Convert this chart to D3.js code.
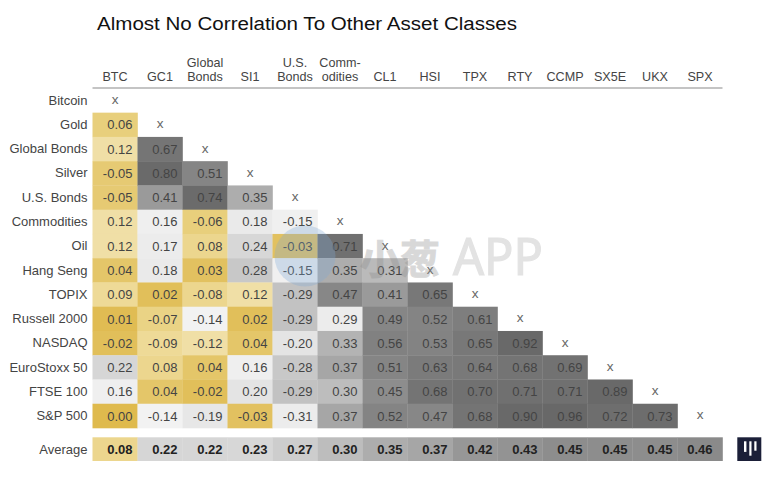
<!DOCTYPE html>
<html>
<head>
<meta charset="utf-8">
<script src="https://cdn.jsdelivr.net/npm/d3@7"></script>
<style>
  html, body { margin: 0; padding: 0; background: #fff; }
  svg { display: block; }
  text { font-family: "Liberation Sans", Arial, sans-serif; fill: #444; }
  .axis path { display: none; }
  .axis line { display: none; }
  .axis text { font-size: 12.6px; }
  .rowlabels text { font-size: 13px; }
  .val { font-size: 13px; text-anchor: end; }
  .avg { font-size: 13px; text-anchor: end; font-weight: bold; fill: #222; }
</style>
</head>
<body>
<div id="chart"></div>
<script>
var title = "Almost No Correlation To Other Asset Classes";

var columns = ["BTC", "GC1", "Global Bonds", "SI1", "U.S. Bonds", "Comm- odities", "CL1", "HSI", "TPX", "RTY", "CCMP", "SX5E", "UKX", "SPX"];
var rows = ["Bitcoin", "Gold", "Global Bonds", "Silver", "U.S. Bonds", "Commodities", "Oil", "Hang Seng", "TOPIX", "Russell 2000", "NASDAQ", "EuroStoxx 50", "FTSE 100", "S&P 500"];

var btc = [0.06, 0.12, -0.05, -0.05, 0.12, 0.12, 0.04, 0.09, 0.01, -0.02, 0.22, 0.16, 0.00];
var gc1 = [0.67, 0.80, 0.41, 0.16, 0.17, 0.18, 0.02, -0.07, -0.09, 0.08, 0.04, -0.14];
var globalBonds = [0.51, 0.74, -0.06, 0.08, 0.03, -0.08, -0.14, -0.12, 0.04, -0.02, -0.19];
var si1 = [0.35, 0.18, 0.24, 0.28, 0.12, 0.02, 0.04, 0.16, 0.20, -0.03];
var usBonds = [-0.15, -0.03, -0.15, -0.29, -0.29, -0.20, -0.28, -0.29, -0.31];
var commodities = [0.71, 0.35, 0.47, 0.29, 0.33, 0.37, 0.30, 0.37];
var cl1 = [0.31, 0.41, 0.49, 0.56, 0.51, 0.45, 0.52];
var hsi = [0.65, 0.52, 0.53, 0.63, 0.68, 0.47];
var tpx = [0.61, 0.65, 0.64, 0.70, 0.68];
var rty = [0.92, 0.68, 0.71, 0.90];
var ccmp = [0.69, 0.71, 0.96];
var sx5e = [0.89, 0.72];
var ukx = [0.73];

var average = [0.08, 0.22, 0.22, 0.23, 0.27, 0.30, 0.35, 0.37, 0.42, 0.43, 0.45, 0.45, 0.45, 0.46];

var byColumn = [btc, gc1, globalBonds, si1, usBonds, commodities, cl1, hsi, tpx, rty, ccmp, sx5e, ukx];

// the source shades these two much lighter than their value
var paleCells = ["S&P 500|U.S. Bonds", "Russell 2000|Comm- odities"];

var width = 778, height = 477;

var x = d3.scaleBand().domain(columns).range([92.5, 722.5]);
var y = d3.scaleBand().domain(rows).range([88.4, 428]);

var gold = d3.scaleLinear()
  .domain([0, 0.03, 0.06, 0.09, 0.13])
  .range(["#dfba4d", "#e2c160", "#e8cf7c", "#eeda97", "#f1e1ab"]);
var grey = d3.scaleLinear()
  .domain([0.13, 0.16, 0.2, 0.22, 0.25, 0.3, 0.37, 0.47, 0.6, 0.75, 1])
  .range(["#f3f3f3", "#efefef", "#e4e4e4", "#d6d6d6", "#d8d8d8", "#bdbdbd", "#a6a6a6", "#878787", "#7f7f7f", "#6a6a6a", "#686868"]);

function shade (v) {
  var a = Math.abs(v);
  return a < 0.13 ? gold(a) : grey(a);
}

// source prints a plain hyphen, not d3's minus sign
function fmt (v) {
  return d3.format(".2f")(v).replace("\u2212", "-");
}

var svg = d3.select("#chart").append("svg").attr("width", width).attr("height", height);

svg.append("text")
  .attr("x", 97).attr("y", 30)
  .attr("textLength", 420).attr("lengthAdjust", "spacingAndGlyphs")
  .style("font-size", "18px").style("fill", "#111")
  .text(title);

// header
var xAxis = svg.append("g").attr("class", "axis").attr("transform", "translate(0,81)")
  .call(d3.axisTop(x).tickSize(0).tickPadding(0));
xAxis.selectAll("text").each(function (d) {
  var t = d3.select(this), words = d.split(" ");
  t.text(null).attr("y", 0).attr("dy", 0);
  words.forEach(function (w, i) {
    t.append("tspan").attr("x", 0).attr("y", (i - words.length + 1) * 14.5).text(w);
  });
});

svg.append("line")
  .attr("x1", x.range()[0]).attr("x2", x.range()[1])
  .attr("y1", 88).attr("y2", 88)
  .attr("stroke", "#8a8a8a").attr("stroke-width", 1.2);

// row labels
svg.append("g").attr("class", "axis rowlabels").attr("transform", "translate(87.5,0)")
  .call(d3.axisLeft(y).tickSize(0).tickPadding(0));

// lower triangle
var cells = [];
byColumn.forEach(function (vals, c) {
  vals.forEach(function (v, i) {
    cells.push({ row: rows[c + 1 + i], col: columns[c], value: v });
  });
});

var cell = svg.append("g").selectAll("g").data(cells).enter().append("g")
  .attr("transform", function (d) { return "translate(" + x(d.col) + "," + y(d.row) + ")"; });

cell.append("rect")
  .attr("width", x.bandwidth() + 0.3)
  .attr("height", y.bandwidth() + 0.3)
  .attr("fill", function (d) {
    return paleCells.indexOf(d.row + "|" + d.col) >= 0 ? "#ececec" : shade(d.value);
  });

cell.append("text")
  .attr("class", "val")
  .attr("x", x.bandwidth() - 5)
  .attr("y", y.bandwidth() / 2)
  .attr("dy", "0.36em")
  .text(function (d) { return fmt(d.value); });

// diagonal
svg.append("g").selectAll("text").data(rows).enter().append("text")
  .attr("x", function (d, i) { return x(columns[i]) + x.bandwidth() / 2; })
  .attr("y", function (d) { return y(d) + y.bandwidth() / 2 - 1; })
  .attr("dy", "0.34em")
  .attr("text-anchor", "middle")
  .style("font-size", "13.5px").style("fill", "#666")
  .text("x");

// average row
var avgTop = 437.3, avgHeight = 23.7;

svg.append("text")
  .attr("x", 87.5).attr("y", avgTop + avgHeight / 2)
  .attr("dy", "0.36em").attr("text-anchor", "end")
  .style("font-size", "13px")
  .text("Average");

var avg = svg.append("g").selectAll("g").data(average).enter().append("g")
  .attr("transform", function (d, i) { return "translate(" + x(columns[i]) + "," + avgTop + ")"; });

avg.append("rect")
  .attr("width", x.bandwidth() + 0.3)
  .attr("height", avgHeight)
  .attr("fill", function (d) { return shade(d); });

avg.append("text")
  .attr("class", "avg")
  .attr("x", function (d, i) { return x.bandwidth() - (i === average.length - 1 ? 10 : 5); })
  .attr("y", avgHeight / 2)
  .attr("dy", "0.36em")
  .text(function (d) { return fmt(d); });

// logo
var logo = svg.append("g").attr("transform", "translate(737.3,437.3)");
logo.append("rect").attr("width", 24).attr("height", 23.7).attr("fill", "#1b1f38");
logo.append("rect").attr("x", 6.7).attr("y", 4).attr("width", 2.4).attr("height", 10.6).attr("fill", "#fff");
logo.append("rect").attr("x", 12).attr("y", 4).attr("width", 2.2).attr("height", 14.4).attr("fill", "#fff");
logo.append("rect").attr("x", 17).attr("y", 4).attr("width", 2.2).attr("height", 9.4).attr("fill", "#fff");

// watermark
var mark = svg.append("g");
mark.append("circle").attr("cx", 305).attr("cy", 256).attr("r", 30.5)
  .attr("fill", "#7fa8d6").attr("opacity", 0.3);
mark.append("text")
  .attr("x", 360).attr("y", 274)
  .attr("textLength", 80).attr("lengthAdjust", "spacingAndGlyphs")
  .style("font-family", "'Noto Sans CJK SC'").style("font-size", "40px").style("font-weight", "bold")
  .style("fill", "#8c8c8c").style("stroke", "#8c8c8c").style("stroke-width", 1).attr("opacity", 0.33)
  .text("小葱");
mark.append("text")
  .attr("x", 453).attr("y", 275)
  .attr("textLength", 90).attr("lengthAdjust", "spacingAndGlyphs")
  .style("font-family", "'Noto Sans'").style("font-size", "51px")
  .style("fill", "#8c8c8c").style("stroke", "#8c8c8c").style("stroke-width", 1.2).attr("opacity", 0.24)
  .text("APP");
</script>
</body>
</html>
